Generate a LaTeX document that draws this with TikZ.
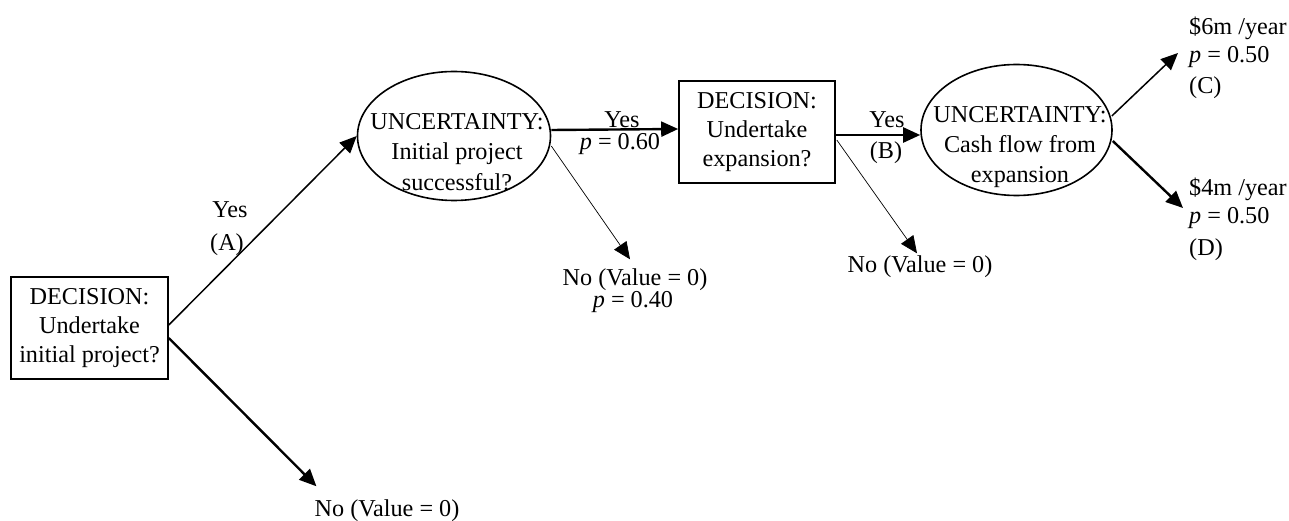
\documentclass[tikz,border=0pt]{standalone}
\usepackage{fontspec}
\setmainfont{Liberation Serif}
\usetikzlibrary{shapes.geometric,arrows.meta,calc}
\begin{document}
\begin{tikzpicture}[x=1bp,y=-1bp,
  every node/.style={font=\fontsize{24.3}{29.5}\selectfont},
  lbl/.style={inner sep=0pt, text height=16bp, text depth=5bp},
  dbox/.style={draw, line width=1.6bp, minimum width=157bp, minimum height=102bp, align=center, inner sep=0pt},
  unc/.style={draw, ellipse, line width=1.6bp, inner sep=0pt},
  etext/.style={align=center, inner sep=0pt, font=\fontsize{24.3}{30.5}\selectfont},
  arr/.style={-{Triangle[length=17bp,width=15bp]}},
  thickarr/.style={arr, line width=2.4bp},
  medarr/.style={arr, line width=1.5bp},
  thinarr/.style={arr, line width=0.7bp},
]
\useasboundingbox (0,0) rectangle (1289,521);

% main nodes
\node[dbox] (b1) at (89.5,328) {DECISION:\\Undertake\\initial project?};
\node[unc, minimum width=193bp, minimum height=129bp] (e1) at (454,136) {};
\node[etext] (e1t) at (457,152) {UNCERTAINTY:\\Initial project\\successful?};
\node[dbox, minimum width=156bp] (b2) at (757,132) {DECISION:\\Undertake\\expansion?};
\node[unc, minimum width=191bp, minimum height=131bp] (e2) at (1016.5,130) {};
\node[etext] (e2t) at (1020,147) {UNCERTAINTY:\\Cash flow from\\expansion};

% labels
\node[lbl] (yA) at (230,212) {Yes};
\node[lbl] (A) at (227,245) {(A)};
\node[lbl] (noA) at (387,511) {No (Value = 0)};
\node[lbl] (y1) at (622,122) {Yes};
\node[lbl] (p60) at (620,144) {\textit{p} = 0.60};
\node[lbl] (no1) at (635,280) {No (Value = 0)};
\node[lbl] (p40) at (633,302) {\textit{p} = 0.40};
\node[lbl] (yB) at (887,122) {Yes};
\node[lbl] (B) at (886,153) {(B)};
\node[lbl] (no2) at (920,267) {No (Value = 0)};
\node[lbl, anchor=west] (c1) at (1189,29) {\$6m /year};
\node[lbl, anchor=west] (pC) at (1189,57) {\textit{p} = 0.50};
\node[lbl, anchor=west] (cC) at (1189,88) {(C)};
\node[lbl, anchor=west] (d1) at (1189,190) {\$4m /year};
\node[lbl, anchor=west] (pD) at (1189,218) {\textit{p} = 0.50};
\node[lbl, anchor=west] (dD) at (1189,250) {(D)};

% connectors
\draw[medarr] ($(b1.east)+(0,-3)$) -- (e1.west);
\draw[thickarr] ($(b1.east)+(0,10)$) -- ($(noA.north west)+(2,-14)$);
\draw[thickarr] ($(e1.east)+(0,-6)$) -- ($(b2.west)+(0,-3)$);
\draw[thinarr] ($(e1.east)+(0,10)$) -- ($(no1.north)+(-5,-10)$);
\draw[thickarr] ($(b2.east)+(0,3)$) -- ($(e2.west)+(0,5)$);
\draw[thinarr] ($(b2.east)+(1,8)$) -- ($(no2.north)+(-3,-3)$);
\draw[medarr] ($(e2.east)+(-1,-14)$) -- ($(pC.west)+(-11,-4)$);
\draw[thickarr] ($(e2.east)+(0,11)$) -- ($(pD.west)+(-6,-10)$);
\end{tikzpicture}
\end{document}
